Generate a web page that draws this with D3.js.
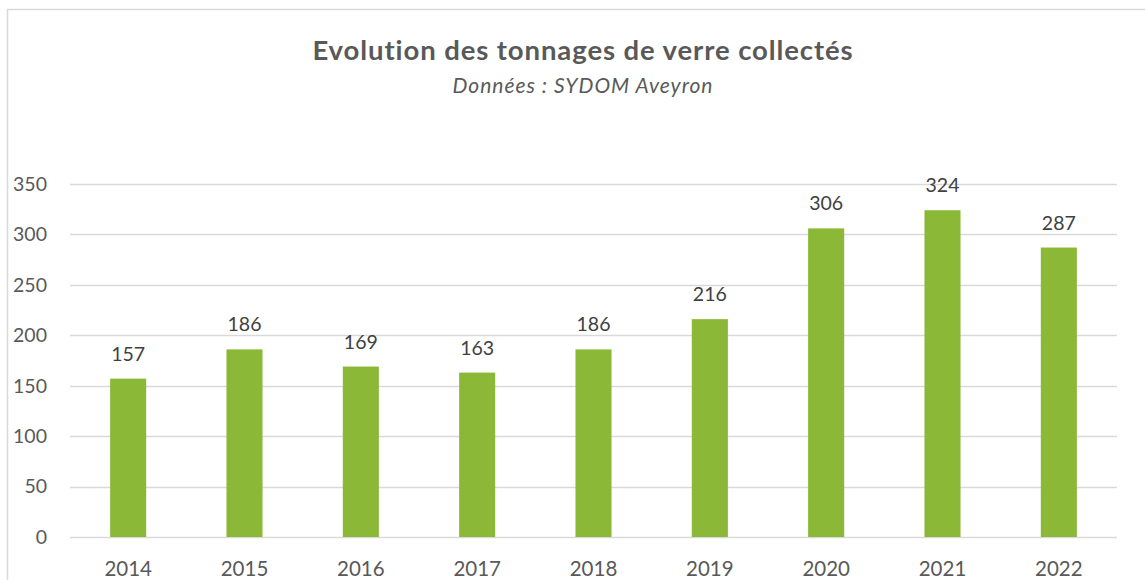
<!DOCTYPE html>
<head>
  <meta charset="utf-8">
  <script src="https://d3js.org/d3.v7.min.js"></script>
  <style>
    body { margin:0; padding:0; background:#fff; }
    text { font-family: Lato, "Open Sans", sans-serif; }
  </style>
</head>
<body>
  <script>
    var width = 1145, height = 580;
    var margin = {top:184, right:28, bottom:43, left:70};

    // data
    var years = ["2014", "2015", "2016", "2017", "2018", "2019", "2020", "2021", "2022"];
    var tonnages = [157, 186, 169, 163, 186, 216, 306, 324, 287];
    var yTicks = [0, 50, 100, 150, 200, 250, 300, 350];

    var svg = d3.select("body").append("svg")
      .attr("width", width)
      .attr("height", height);

    // chart frame
    svg.append("rect")
      .attr("x", 7.5).attr("y", 9.5)
      .attr("width", 1150).attr("height", 600)
      .attr("fill", "#fff")
      .attr("stroke", "#d9d9d9")
      .attr("stroke-width", 1.5);

    var x = d3.scaleBand()
      .domain(years)
      .range([margin.left, width - margin.right])
      .paddingInner(0.69)
      .paddingOuter(0.345);

    var y = d3.scaleLinear()
      .domain([0, 350])
      .range([height - margin.bottom, margin.top]);

    // gridlines
    svg.append("g").selectAll("line")
      .data(yTicks)
      .enter().append("line")
      .attr("x1", margin.left)
      .attr("x2", width - margin.right)
      .attr("y1", function(d) { return Math.round(y(d)) + 0.5; })
      .attr("y2", function(d) { return Math.round(y(d)) + 0.5; })
      .attr("stroke", "#d9d9d9")
      .attr("stroke-width", 1.5);

    // y labels
    svg.append("g").selectAll("text")
      .data(yTicks)
      .enter().append("text")
      .attr("x", 47)
      .attr("y", function(d) { return y(d); })
      .attr("dy", "0.35em")
      .attr("text-anchor", "end")
      .attr("font-size", 19.5)
      .attr("fill", "#595959")
      .text(function(d) { return d; });

    // bars
    svg.append("g").selectAll("rect")
      .data(tonnages)
      .enter().append("rect")
      .attr("x", function(d, i) { return x(years[i]); })
      .attr("width", x.bandwidth())
      .attr("y", function(d) { return y(d); })
      .attr("height", function(d) { return y(0) - y(d); })
      .attr("fill", "#8bb836");

    // value labels
    svg.append("g").selectAll("text")
      .data(tonnages)
      .enter().append("text")
      .attr("x", function(d, i) { return x(years[i]) + x.bandwidth() / 2; })
      .attr("y", function(d) { return y(d) - 18; })
      .attr("text-anchor", "middle")
      .attr("font-size", 19.5)
      .attr("fill", "#404040")
      .text(function(d) { return d; });

    // x labels
    svg.append("g").selectAll("text")
      .data(years)
      .enter().append("text")
      .attr("x", function(d) { return x(d) + x.bandwidth() / 2; })
      .attr("y", 576)
      .attr("text-anchor", "middle")
      .attr("font-size", 20.5)
      .attr("fill", "#595959")
      .text(function(d) { return d; });

    // title
    svg.append("text")
      .attr("x", 583).attr("y", 60)
      .attr("text-anchor", "middle")
      .attr("font-size", 27.5)
      .attr("font-weight", "bold")
      .attr("letter-spacing", 0.9)
      .attr("fill", "#595959")
      .text("Evolution des tonnages de verre collectés");

    svg.append("text")
      .attr("x", 583).attr("y", 93)
      .attr("text-anchor", "middle")
      .attr("font-size", 21)
      .attr("font-style", "italic")
      .attr("letter-spacing", 1)
      .attr("fill", "#595959")
      .text("Données : SYDOM Aveyron");
  </script>
</body>
